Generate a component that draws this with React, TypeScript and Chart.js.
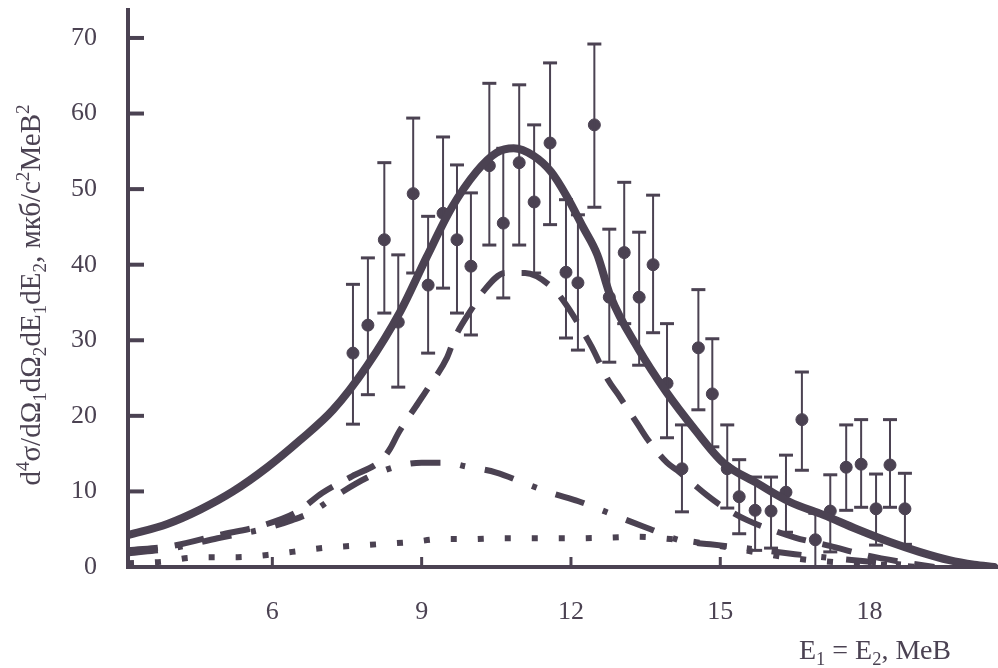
import React, { useEffect, useRef } from "react";
import { Chart, registerables } from "chart.js";

Chart.register(...registerables);

const INK = "#4b4252";
const FONT = '"Liberation Serif", "DejaVu Serif", serif';

// axis ticks
const xTicks = [6, 9, 12, 15, 18];
const yTicks = [0, 10, 20, 30, 40, 50, 60, 70];
const xMin = 3.1;
const xMax = 20.58;
const yMin = 0;
const yMax = 73.7;

// experimental points (E, value, lower and upper end of error bar)
const expE = [7.62, 7.92, 8.25, 8.53, 8.83, 9.13, 9.43, 9.71, 9.99, 10.36, 10.64, 10.96, 11.26, 11.58, 11.9, 12.14, 12.47, 12.77, 13.07, 13.37, 13.65, 13.93, 14.23, 14.56, 14.84, 15.14, 15.38, 15.7, 16.02, 16.32, 16.64, 16.91, 17.21, 17.53, 17.83, 18.13, 18.41, 18.71];
const expY = [28.3, 32.0, 43.3, 32.4, 49.4, 37.3, 46.8, 43.3, 39.8, 53.1, 45.5, 53.5, 48.3, 56.1, 39.0, 37.6, 58.5, 35.7, 41.6, 35.7, 40.0, 24.3, 13.0, 29.0, 22.9, 13.0, 9.3, 7.5, 7.4, 9.9, 19.5, 3.6, 7.4, 13.2, 13.6, 7.7, 13.5, 7.7];
const expLo = [18.9, 22.8, 33.6, 23.8, 38.9, 28.3, 36.9, 33.6, 30.7, 42.6, 35.6, 42.6, 38.9, 45.3, 30.3, 28.7, 47.6, 27.1, 32.2, 26.7, 31.0, 17.1, 7.3, 20.8, 15.9, 7.8, 4.4, 2.2, 2.5, 4.6, 12.8, 0.0, 2.0, 7.5, 7.9, 2.9, 7.9, 3.0];
const expHi = [37.4, 40.9, 53.5, 41.3, 59.4, 46.4, 56.9, 53.2, 49.5, 64.0, 55.4, 63.8, 58.5, 66.7, 48.6, 46.6, 69.2, 44.7, 50.9, 44.3, 49.2, 32.2, 18.8, 36.7, 30.2, 18.8, 14.2, 11.9, 11.9, 14.8, 25.8, 7.1, 12.2, 18.8, 19.5, 12.3, 19.5, 12.4];

// total (solid curve)
const totalE = [3.1, 3.89, 4.55, 5.21, 5.9, 6.56, 7.22, 7.9, 8.57, 9.1, 9.6, 10.1, 10.5, 10.85, 11.25, 11.6, 11.92, 12.24, 12.53, 12.79, 13.35, 13.9, 14.5, 15.06, 15.74, 16.4, 17.07, 17.75, 18.41, 19.0, 19.6, 20.1, 20.5];
const totalY = [4.2, 5.7, 7.6, 10.0, 13.2, 16.8, 20.8, 26.6, 33.8, 41.0, 47.5, 52.3, 54.8, 55.4, 54.4, 52.3, 49.0, 45.0, 41.3, 35.9, 28.9, 23.3, 18.1, 13.8, 11.1, 8.6, 6.9, 5.0, 3.3, 2.0, 0.9, 0.3, 0.0];

// dashed curve
const dashE = [3.1, 4.0, 4.9, 5.8, 6.5, 7.0, 7.6, 8.2, 8.37, 8.53, 8.93, 9.13, 9.51, 9.67, 10.03, 10.23, 10.68, 11.08, 11.62, 11.84, 12.22, 12.42, 12.75, 12.95, 13.35, 13.55, 13.93, 14.13, 14.73, 15.0, 15.54, 16.0, 16.5, 17.2, 17.9, 18.8, 19.3];
const dashY = [2.2, 2.8, 4.2, 5.5, 7.3, 9.8, 12.0, 14.2, 15.7, 17.7, 21.7, 23.7, 27.7, 30.4, 34.4, 36.4, 38.9, 38.9, 37.0, 35.3, 31.4, 29.1, 24.7, 22.8, 18.8, 16.8, 13.8, 12.8, 9.5, 8.2, 6.2, 5.0, 3.9, 2.8, 1.6, 0.5, 0.0];

// dash-dot curve
const dashDotE = [3.1, 4.0, 4.9, 5.8, 6.4, 6.8, 7.3, 7.9, 8.5, 9.0, 9.5, 9.9, 10.5, 11.1, 11.6, 12.15, 12.7, 13.2, 13.6, 14.2, 14.8, 15.5, 16.5, 17.5, 18.5, 19.2];
const dashDotY = [1.8, 2.5, 3.8, 5.0, 6.2, 7.3, 9.5, 11.8, 13.3, 13.8, 13.8, 13.3, 12.5, 11.0, 9.8, 8.7, 7.3, 6.0, 5.0, 3.5, 3.0, 2.5, 1.7, 1.0, 0.4, 0.0];

// dotted curve
const dotE = [3.1, 3.8, 4.3, 4.8, 5.3, 5.9, 6.4, 7.0, 7.6, 8.1, 8.8, 9.4, 10.0, 10.5, 11.0, 11.6, 12.2, 12.8, 13.3, 14.0, 14.8, 15.5, 16.3, 17.0, 18.0, 19.0];
const dotY = [0.5, 0.7, 1.2, 1.3, 1.3, 1.6, 2.0, 2.5, 2.8, 3.0, 3.3, 3.7, 3.7, 3.8, 3.8, 3.8, 3.8, 3.9, 4.0, 3.7, 3.0, 2.2, 1.3, 0.8, 0.4, 0.0];

type Seg = [string, "n" | "sup" | "sub"];
const yTitle: Seg[] = [
  ["d", "n"], ["4", "sup"], ["σ/dΩ", "n"], ["1", "sub"], ["dΩ", "n"], ["2", "sub"],
  ["dE", "n"], ["1", "sub"], ["dE", "n"], ["2", "sub"], [", мкб/с", "n"], ["2", "sup"],
  ["МеВ", "n"], ["2", "sup"],
];
const xTitle: Seg[] = [["E", "n"], ["1", "sub"], [" = E", "n"], ["2", "sub"], [", МеВ", "n"]];

function pts(xs: number[], ys: number[]) {
  return xs.map((x, i) => ({ x, y: ys[i] }));
}

function drawRich(ctx: CanvasRenderingContext2D, segs: Seg[], size: number) {
  const small = size * 0.66;
  let total = 0;
  const widths = segs.map(([t, k]) => {
    ctx.font = `${k === "n" ? size : small}px ${FONT}`;
    const w = ctx.measureText(t).width;
    total += w;
    return w;
  });
  let x = -total / 2;
  segs.forEach(([t, k], i) => {
    ctx.font = `${k === "n" ? size : small}px ${FONT}`;
    const dy = k === "sup" ? -size * 0.38 : k === "sub" ? size * 0.2 : 0;
    ctx.fillText(t, x, dy);
    x += widths[i];
  });
}

const decorPlugin = {
  id: "decor",
  afterDraw(chart: any) {
    const { ctx, chartArea, scales } = chart;
    ctx.save();
    ctx.strokeStyle = INK;
    ctx.fillStyle = INK;
    ctx.lineWidth = 4;
    yTicks.forEach((v) => {
      if (v === 0) return;
      const py = scales.y.getPixelForValue(v);
      ctx.beginPath();
      ctx.moveTo(chartArea.left, py);
      ctx.lineTo(chartArea.left + 16, py);
      ctx.stroke();
    });
    ctx.lineWidth = 3;
    xTicks.forEach((v) => {
      const px = scales.x.getPixelForValue(v);
      ctx.beginPath();
      ctx.moveTo(px, chartArea.bottom);
      ctx.lineTo(px, chartArea.bottom - 10);
      ctx.stroke();
    });
    ctx.textBaseline = "alphabetic";
    ctx.textAlign = "left";
    // y title
    ctx.save();
    ctx.translate(40, 295);
    ctx.rotate(-Math.PI / 2);
    drawRich(ctx, yTitle, 29);
    ctx.restore();
    // x title
    ctx.save();
    ctx.translate(875, 659);
    drawRich(ctx, xTitle, 28);
    ctx.restore();
    ctx.restore();
  },
};

export default function App() {
  const ref = useRef<HTMLCanvasElement | null>(null);
  useEffect(() => {
    if (!ref.current) return;
    const errData: any[] = [];
    expE.forEach((x, i) => {
      errData.push({ x, y: expLo[i] }, { x, y: expHi[i] }, { x, y: null });
    });
    const curve = (data: any, width: number, dash: number[], cap: CanvasLineCap) => ({
      type: "line" as const,
      data,
      borderColor: INK,
      borderWidth: width,
      borderDash: dash,
      borderCapStyle: cap,
      pointRadius: 0,
      cubicInterpolationMode: "monotone" as const,
      fill: false,
    });
    const chart = new Chart(ref.current, {
      type: "scatter",
      data: {
        datasets: [
          curve(pts(totalE, totalY), 8, [], "round"),
          curve(pts(dashE, dashY), 6, [30, 17], "butt"),
          curve(pts(dashDotE, dashDotY), 6, [30, 20, 5, 20], "butt"),
          curve(pts(dotE, dotY), 6, [6, 21], "butt"),
          {
            type: "line" as const,
            data: errData,
            borderColor: INK,
            borderWidth: 2,
            spanGaps: false,
            pointStyle: "line",
            pointRadius: 7,
            pointBorderWidth: 3,
            pointBorderColor: INK,
            tension: 0,
          },
          {
            data: pts(expE, expY),
            backgroundColor: INK,
            borderColor: INK,
            pointRadius: 6,
            pointStyle: "circle",
          },
        ] as any,
      },
      options: {
        responsive: false,
        animation: false,
        layout: { autoPadding: false, padding: { left: 0, right: 0, top: 10, bottom: 0 } },
        plugins: { legend: { display: false }, tooltip: { enabled: false } },
        scales: {
          x: {
            type: "linear",
            min: xMin,
            max: xMax,
            afterFit: (s: any) => { s.height = 101; s.paddingLeft = 0; s.paddingRight = 0; },
            afterBuildTicks: (s: any) => { s.ticks = xTicks.map((v) => ({ value: v })); },
            grid: { display: false, drawTicks: false },
            border: { display: true, color: INK, width: 4 },
            ticks: { color: INK, font: { family: FONT, size: 26 }, padding: 30 },
          },
          y: {
            type: "linear",
            min: yMin,
            max: yMax,
            afterFit: (s: any) => { s.width = 128; s.paddingTop = 0; s.paddingBottom = 0; },
            afterBuildTicks: (s: any) => { s.ticks = yTicks.map((v) => ({ value: v })); },
            grid: { display: false, drawTicks: false },
            border: { display: true, color: INK, width: 4 },
            ticks: { color: INK, font: { family: FONT, size: 26 }, padding: 31 },
          },
        },
      } as any,
      plugins: [decorPlugin],
    });
    return () => chart.destroy();
  }, []);
  return (
    <div style={{ position: "fixed", left: 0, top: 0, width: 998, height: 668, background: "#fff" }}>
      <canvas ref={ref} width={998} height={668} />
    </div>
  );
}
